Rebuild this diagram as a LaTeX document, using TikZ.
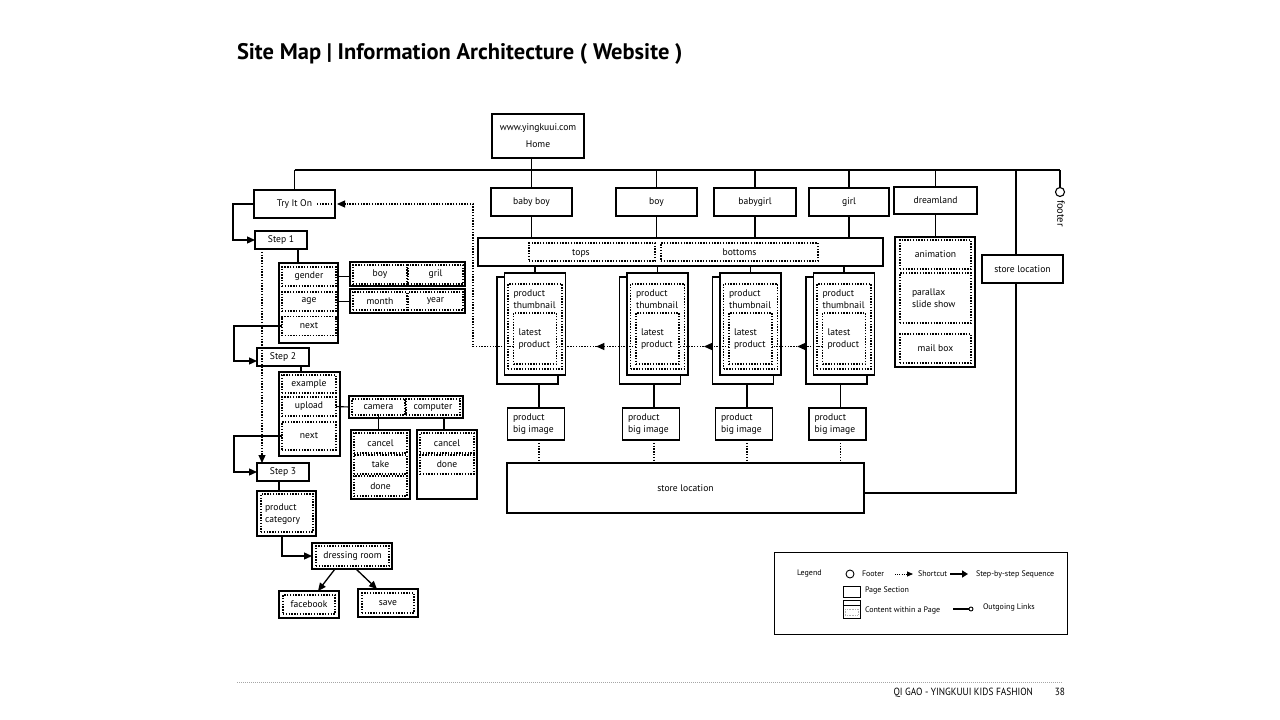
\documentclass[tikz,border=0pt]{standalone}
\usepackage{fontspec}
\setmainfont{PT Sans}
\newfontfamily\ttlfont{PT Sans}
\newfontfamily\ftfont[FakeStretch=0.9]{PT Sans}
\usetikzlibrary{arrows.meta,decorations.markings}

\begin{document}
\begin{tikzpicture}[x=1pt,y=-1pt,
  font=\fontsize{9.6}{11}\selectfont,
  every node/.style={inner sep=0pt, outer sep=0pt},
  sz/.style 2 args={minimum width=#1pt, minimum height=#2pt},
  pagebox/.style={draw, line width=1.2pt, fill=white},
  grpbox/.style={draw, line width=1.7pt, fill=white},
  outerbox/.style={draw, line width=1.5pt},
  dotbox/.style={draw, line width=1.2pt, dash pattern=on 1.4pt off 1.4pt},
  conn/.style={line width=1.1pt},
  thickconn/.style={line width=1.7pt},
  shortline/.style={line width=1.2pt, dash pattern=on 1.4pt off 1.4pt},
  tip/.tip={Triangle[length=8pt,width=7pt]},
  seqarrow/.style={line width=1.3pt, -tip},
  midarrow/.style={postaction={decorate, decoration={markings,
      mark=at position 0.5 with {\arrow{tip}}}}},
  twoline/.style={anchor=west, align=left, font=\fontsize{9.6}{12}\selectfont},
  legtext/.style={anchor=west, font=\fontsize{8}{9}\selectfont}]

\useasboundingbox[fill=white] (0,0) rectangle (1280,720);

% heading
\node[anchor=base west, font=\ttlfont\bfseries\fontsize{22.5}{25}\selectfont] (title) at (237,59)
  {Site Map | Information Architecture ( Website )};

% home and main navigation
\node[pagebox, sz={92}{44}, align=center] (home) at (538,136) {www.yingkuui.com\\[6pt]Home};
\node[pagebox, sz={81}{28}] (bb) at (531.5,202) {baby boy};
\node[pagebox, sz={81}{28}] (by) at (656.5,202) {boy};
\node[pagebox, sz={82}{28}] (bg) at (755,202) {babygirl};
\node[pagebox, sz={80}{28}] (gl) at (849,202) {girl};
\node[pagebox, sz={83}{27}] (dl) at (935.5,200.5) {dreamland};
\node[pagebox, sz={81}{28}] (try) at (294.5,204) {Try It On};

\coordinate (busL) at (294.5,170);
\coordinate (busR) at (1060,170);
\coordinate (srTop) at (1016,170);
\draw[conn] (busL) -- (busR);
\draw[conn] (home.south -| bb.north) -- (bb.north);
\foreach \n in {by,bg,gl,dl} \draw[conn] (\n.north |- busL) -- (\n.north);
\draw[conn] (busL) -- (try.north);

% footer link
\node[draw, circle, line width=1.1pt, minimum size=9pt] (foot) at (1060,192) {};
\draw[conn] (busR) -- (foot.north);
\node[rotate=-90, anchor=west, font=\fontsize{10.5}{12}\selectfont] (foottxt) at (1061,200) {footer};

% category bar
\node[pagebox, sz={405}{28}] (bar) at (680.5,252) {};
\node[dotbox, sz={126}{18}] (tops) at (592,252) {};
\node[anchor=base] (topst) at (581,255.5) {tops};
\node[dotbox, sz={157}{18}] (bots) at (739.5,252) {bottoms};
\foreach \n in {bb,by,bg,gl} \draw[conn] (\n.south) -- (\n.south |- bar.north);

% store location pages
\node[pagebox, sz={357}{50}] (store) at (685.5,488) {store location};
\draw[conn] (srTop) |- ([yshift=-5pt]store.east);
\node[pagebox, sz={81}{28}] (storeR) at (1022.5,269) {store location};

% product stacks
\foreach \i/\F/\B in {1/535/536, 2/657.5/651, 3/750.5/744, 4/844/837.5} {
  \node[pagebox, sz={61}{107}] (bk\i) at (\F-7.5,330.5) {};
  \node[pagebox, sz={61}{102}] (fr\i) at (\F,324) {};
  \node[dotbox, sz={54}{85}] (th\i) at (\F,326.5) {};
  \node[dotbox, sz={43}{51}] (lt\i) at (\F,338.5) {};
  \node[twoline] (tht\i) at (\F-21.5,299) {product\\thumbnail};
  \node[twoline] (ltt\i) at (\F-16.5,339.5) {latest\\product};
  \node[pagebox, sz={57}{32}] (bi\i) at (\B,424) {};
  \node[twoline] (bit\i) at (\B-23,424) {product\\big image};
  \draw[conn] (fr\i.north) -- (fr\i.north |- bar.south);
  \draw[conn] ([xshift=3pt]bi\i.north) -- ([xshift=3pt]bi\i.north |- bk\i.south);
  \draw[shortline] ([xshift=3pt]bi\i.south) -- ([xshift=3pt]bi\i.south |- store.north);
}

% shortcuts between latest products and back to Try It On
\draw[shortline, midarrow] ([yshift=-8pt]lt4.west) -- ([yshift=-8pt]lt3.east);
\draw[shortline, midarrow] ([yshift=-8pt]lt3.west) -- ([yshift=-8pt]lt2.east);
\draw[shortline, midarrow] ([yshift=-8pt]lt2.west) -- ([yshift=-8pt]lt1.east);
\coordinate (scc) at (473,346.5);
\draw[shortline, -tip] ([yshift=-8pt]lt1.west) -- (scc) |- ([xshift=2pt]try.east);
\draw[shortline] (try.east) -- ++(-19,0);

% dreamland
\node[grpbox, line width=1.4pt, sz={80}{130}] (dlc) at (935,302) {};
\draw[conn] (dl.south) -- (dl.south |- dlc.north);
\node[dotbox, sz={71}{29}] (anim) at (935.5,254.5) {animation};
\node[dotbox, sz={71}{50}] (para) at (935.5,298) {};
\node[twoline] (parat) at (912,298) {parallax\\slide show};
\node[dotbox, sz={71}{29}] (mail) at (935.5,348.5) {mail box};

% step 1
\node[pagebox, sz={52}{18}] (st1) at (281,240) {Step 1};
\node[grpbox, sz={59}{80}] (c1) at (308.5,303) {};
\draw[conn] ([xshift=-9pt]st1.south east) -- ([xshift=-9pt]st1.south east |- c1.north);
\node[dotbox, sz={54}{19}] (gen) at (309,276.5) {gender};
\node[dotbox, sz={54}{19}] (age) at (309,301.5) {age};
\node[dotbox, sz={54}{19}] (nx1) at (309,326) {next};
\node[grpbox, sz={115}{24}] (bgr) at (407.5,274) {};
\node[dotbox, sz={54}{19}] (boy) at (380,274.5) {boy};
\node[dotbox, sz={55}{19}] (gril) at (435.5,274.5) {gril};
\node[grpbox, sz={115}{24}] (my) at (407.5,301) {};
\node[dotbox, sz={54}{18}] (mon) at (380,301) {month};
\node[dotbox, sz={55}{18}] (yr) at (435.5,301) {year};
\draw[thickconn] (c1.east |- gen) -- (bgr.west |- gen);
\draw[thickconn] (c1.east |- age) -- (my.west |- age);

% step 2
\node[pagebox, sz={52}{18}] (st2) at (283,357) {Step 2};
\node[grpbox, sz={61}{84}] (c2) at (309.5,414) {};
\draw[conn] ([xshift=-8pt]st2.south east) -- ([xshift=-8pt]st2.south east |- c2.north);
\node[dotbox, sz={54}{18}] (ex) at (309,384) {example};
\node[dotbox, sz={54}{19}] (up) at (309,406.5) {upload};
\node[dotbox, sz={54}{28}] (nx2) at (309,436) {next};
\node[grpbox, sz={114}{22}] (cc) at (406,407) {};
\node[dotbox, sz={53}{16}] (cam) at (378.5,407) {camera};
\node[dotbox, sz={54}{16}] (comp) at (433,407) {computer};
\draw[conn] (up.east) -- (cc.west);
\node[grpbox, sz={59}{69}] (camb) at (380.5,464.5) {};
\draw[conn] (cam.south) -- (cam.south |- camb.north);
\node[dotbox, sz={53}{20}] (cn1) at (380.5,443) {cancel};
\node[dotbox, sz={53}{19}] (tk) at (380.5,464.5) {take};
\node[dotbox, sz={53}{20}] (dn1) at (380.5,486) {done};
\node[grpbox, sz={60}{69}] (compb) at (447,464.5) {};
\draw[conn] ([xshift=-3pt]compb.north) -- ([xshift=-3pt]compb.north |- cc.south);
\node[dotbox, sz={54}{20}] (cn2) at (447,443) {cancel};
\node[dotbox, sz={54}{19}] (dn2) at (447,464.5) {done};

% step 3
\node[pagebox, sz={52}{18}] (st3) at (283,472) {Step 3};
\node[dotbox, sz={52}{38}] (pcin) at (287,513) {};
\node[twoline] (pct) at (265,514) {product\\category};
\node[outerbox, sz={59}{45}] (pc) at (286.5,513.5) {};
\draw[conn] ([xshift=-4pt]st3.south) -- ([xshift=-4pt]st3.south |- pc.north);
\node[dotbox, sz={73}{20}] (drin) at (352.5,556) {dressing room};
\node[outerbox, sz={80}{26}] (dr) at (352,556) {};
\node[dotbox, sz={52}{19}] (fbin) at (309,604.5) {facebook};
\node[outerbox, sz={60}{27}] (fb) at (309,604.5) {};
\node[dotbox, sz={52}{20}] (svin) at (388,603) {save};
\node[outerbox, sz={60}{28}] (sv) at (388,603) {};

% step-by-step sequence
\draw[seqarrow] (try.west) -- ++(-21,0) |- (st1.west);
\draw[seqarrow] (nx1.west) -- ++(-48,0) |- ([yshift=-4pt]st2.west);
\draw[seqarrow] (nx2.west) -- ++(-48,0) |- (st3.west);
\draw[seqarrow] ([xshift=-4.5pt]pc.south) |- (dr.west);
\draw[seqarrow] ([xshift=-17pt]dr.south) -- ([xshift=9pt]fb.north);
\draw[seqarrow] ([xshift=4pt]dr.south) -- ([xshift=-11pt]sv.north);
\draw[shortline, -tip] ([xshift=7pt]st1.south west) -- ([xshift=7pt]st1.south west |- st3.north);

% legend
\node[draw, line width=1pt, sz={293}{82}] (leg) at (920.5,593) {};
\node[legtext] (legt) at (797,574) {Legend};
\node[draw, circle, line width=0.9pt, minimum size=8pt] (legc) at (850,574) {};
\node[legtext] (legf) at (862,574) {Footer};
\coordinate (ls1) at (895,574);
\coordinate (ls2) at (913,574);
\draw[line width=0.8pt, dash pattern=on 1pt off 1.2pt, -{Triangle[length=6pt,width=5pt]}] (ls1) -- (ls2);
\node[legtext] (legs) at (918,574) {Shortcut};
\coordinate (lq1) at (950,574);
\coordinate (lq2) at (968,574);
\draw[line width=2pt, -{Triangle[length=6pt,width=7pt]}] (lq1) -- (lq2);
\node[legtext] (legq) at (976,574) {Step-by-step Sequence};
\node[draw, line width=0.9pt, sz={17}{11}] (legp) at (851.5,591.5) {};
\node[legtext] (legpt) at (865,590) {Page Section};
\node[draw, line width=0.9pt, sz={17}{18}] (legcw) at (851.5,609) {};
\draw[line width=0.8pt] ([yshift=-5pt]legcw.north west) -- ([yshift=-5pt]legcw.north east);
\draw[gray!60, line width=0.6pt, dash pattern=on 0.8pt off 0.8pt]
  ([xshift=2pt,yshift=-9pt]legcw.north west) rectangle ([xshift=-2pt,yshift=3pt]legcw.south east);
\node[legtext] (legct) at (865,610) {Content within a Page};
\coordinate (lo1) at (953,609);
\node[draw, circle, line width=0.9pt, minimum size=4pt] (loc) at (971,609) {};
\draw[line width=1.1pt] (lo1) -- (loc.west);
\node[legtext] (lot) at (983,607) {Outgoing Links};

% page footer
\coordinate (fl1) at (237,682);
\coordinate (fl2) at (1062,682);
\draw[gray!70, line width=0.8pt, dash pattern=on 0.8pt off 1.2pt] (fl1) -- (fl2);
\node[anchor=base east, font=\ftfont\fontsize{10.4}{11}\selectfont] (cred) at (1033,695) {QI GAO - YINGKUUI KIDS FASHION};
\node[anchor=base east, font=\ftfont\fontsize{10.4}{11}\selectfont] (pgnum) at (1065,695) {38};
\end{tikzpicture}
\end{document}
